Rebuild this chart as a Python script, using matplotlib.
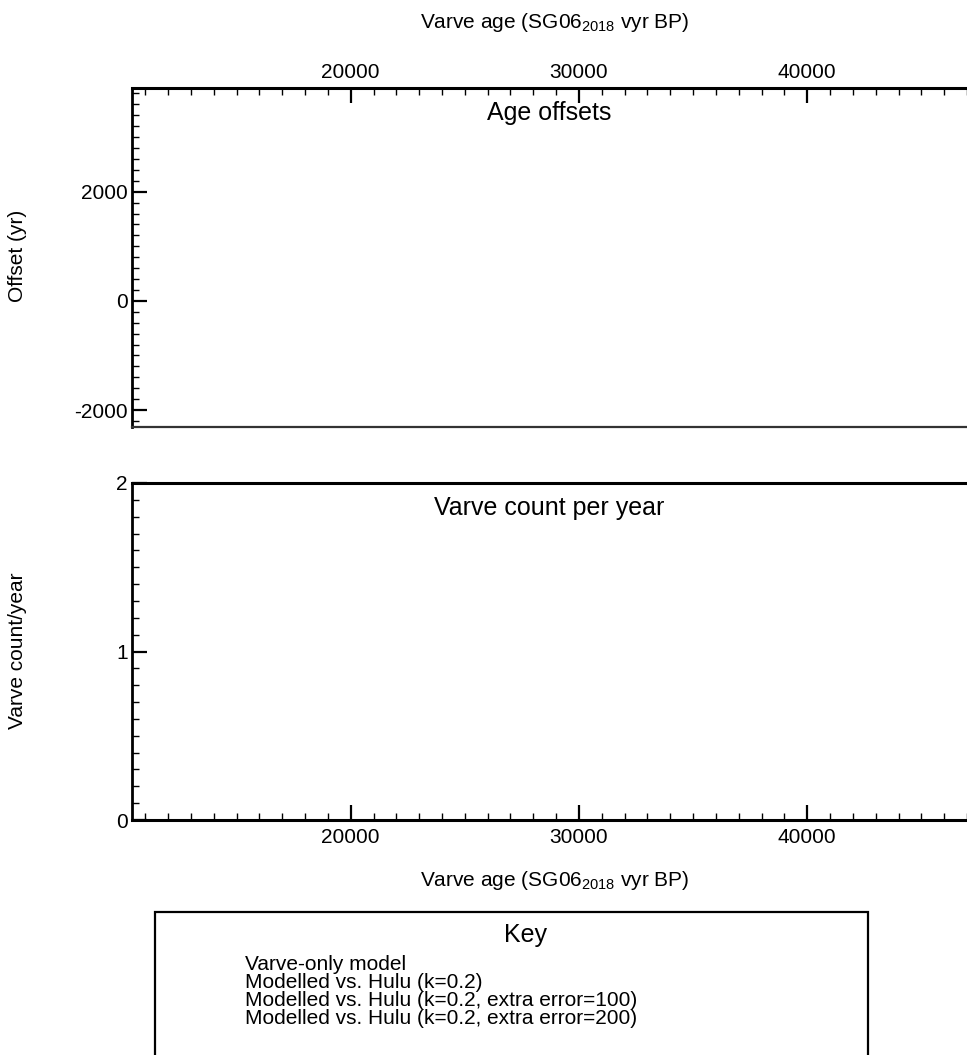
import matplotlib
matplotlib.use("Agg")
import matplotlib.pyplot as plt
from matplotlib.ticker import MultipleLocator, FixedLocator
from matplotlib.patches import Rectangle

plt.rcParams['font.family'] = ['Liberation Sans', 'DejaVu Sans']
plt.rcParams['axes.unicode_minus'] = False
plt.rcParams['mathtext.fontset'] = 'custom'
plt.rcParams['mathtext.rm'] = 'Liberation Sans'
plt.rcParams['mathtext.it'] = 'Liberation Sans'
plt.rcParams['mathtext.bf'] = 'Liberation Sans:bold'

# ---- chart content ----
x_label = "Varve age (SG06$_{\\mathrm{2018}}$ vyr BP)"
x_limits = (10420, 47000)
x_major_ticks = [20000, 30000, 40000]
offset_ticks = [-2000, 0, 2000]
offset_limits = (-2310, 3900)
count_ticks = [0, 1, 2]
count_limits = (0, 2)
panel_titles = ["Age offsets", "Varve count per year"]
y_labels = ["Offset (yr)", "Varve count/year"]
key_title = "Key"
key_entries = [
    "Varve-only model",
    "Modelled vs. Hulu (k=0.2)",
    "Modelled vs. Hulu (k=0.2, extra error=100)",
    "Modelled vs. Hulu (k=0.2, extra error=200)",
]

W, H = 967, 1055
DPI = 100
fig = plt.figure(figsize=(W / DPI, H / DPI), dpi=DPI)

def fx(px):
    return px / W

def fy(py):
    return 1 - py / H

left = fx(132)
width = 1.0 - left
ax1 = fig.add_axes([left, fy(427), width, fy(88) - fy(427)])
ax2 = fig.add_axes([left, fy(820), width, fy(483) - fy(820)])

FS = 15

for ax in (ax1, ax2):
    ax.set_xlim(*x_limits)
    ax.xaxis.set_major_locator(FixedLocator(x_major_ticks))
    ax.xaxis.set_minor_locator(MultipleLocator(1000))
    ax.spines['right'].set_visible(False)
    ax.spines['left'].set_linewidth(2)
    ax.tick_params(axis='both', which='both', direction='in', labelsize=FS)
    ax.tick_params(axis='both', which='major', length=11, width=1.6)
    ax.tick_params(axis='both', which='minor', length=5, width=1.0)
    ax.tick_params(axis='y', which='both', right=False, pad=3)

# top panel
ax1.set_ylim(*offset_limits)
ax1.yaxis.set_major_locator(FixedLocator(offset_ticks))
ax1.yaxis.set_minor_locator(MultipleLocator(200))
ax1.xaxis.tick_top()
ax1.tick_params(axis='x', which='both', top=True, bottom=False, labeltop=True, labelbottom=False, pad=4)
ax1.spines['top'].set_linewidth(2.2)
ax1.spines['bottom'].set_linewidth(1.6)
ax1.spines['bottom'].set_color('#333333')
ax1.text(0.5, 0.926, panel_titles[0], transform=ax1.transAxes, ha='center', va='center', fontsize=18)

# bottom panel
ax2.set_ylim(*count_limits)
ax2.yaxis.set_major_locator(FixedLocator(count_ticks))
ax2.yaxis.set_minor_locator(MultipleLocator(0.1))
ax2.tick_params(axis='x', which='both', top=False, bottom=True, pad=6)
ax2.spines['top'].set_linewidth(2.2)
ax2.spines['bottom'].set_linewidth(2.2)
ax2.text(0.5, 0.926, panel_titles[1], transform=ax2.transAxes, ha='center', va='center', fontsize=18)

# axis labels
fig.text(fx(555), fy(22), x_label, ha='center', va='center', fontsize=FS)
fig.text(fx(555), fy(880), x_label, ha='center', va='center', fontsize=FS)
fig.text(fx(18), fy(256), y_labels[0], rotation=90, ha='center', va='center', fontsize=FS)
fig.text(fx(18), fy(651), y_labels[1], rotation=90, ha='center', va='center', fontsize=FS)

# key box
rect = Rectangle((fx(155), fy(1070)), fx(868) - fx(155), fy(912) - fy(1070),
                 transform=fig.transFigure, fill=False, edgecolor='black',
                 linewidth=1.6, clip_on=False)
fig.patches.append(rect)
fig.text(fx(525), fy(935), key_title, ha='center', va='center', fontsize=18)
for i, entry in enumerate(key_entries):
    fig.text(fx(245), fy(965 + 18 * i), entry, ha='left', va='center', fontsize=FS)

fig.savefig("out.png", dpi=DPI)
